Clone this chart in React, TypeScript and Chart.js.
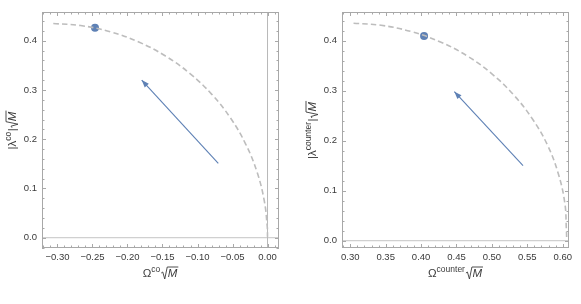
import React, { useEffect, useRef } from "react";
import { Chart, registerables } from "chart.js";

Chart.register(...registerables);

// ---------- data ----------
// Left panel: co-rotating
const CO_ARC_X = [-0.306, -0.2669, -0.2246, -0.1839, -0.1457, -0.1107, -0.0796, -0.053, -0.0314, -0.0152, -0.0047, -0.0004, 0.0];
const CO_ARC_Y = [0.435, 0.4308, 0.4182, 0.3974, 0.3689, 0.3332, 0.2911, 0.2433, 0.1907, 0.1344, 0.0755, 0.0228, 0.002];
const CO_POINT = { x: -0.2464, y: 0.4264 };
const CO_ARROW_X = [-0.0703, -0.1797]; // tail, head
const CO_ARROW_Y = [0.151, 0.3202];
const CO_X_TICKS = [-0.3, -0.25, -0.2, -0.15, -0.1, -0.05, 0.0];

// Right panel: counter-rotating
const CT_ARC_X = [0.3046, 0.3435, 0.3862, 0.4273, 0.4659, 0.5004, 0.5311, 0.5573, 0.5787, 0.5937, 0.603, 0.6052, 0.6056];
const CT_ARC_Y = [0.435, 0.4308, 0.4182, 0.3974, 0.3689, 0.3332, 0.2911, 0.2433, 0.1907, 0.1344, 0.0755, 0.0228, 0.006];
const CT_POINT = { x: 0.4042, y: 0.4094 };
const CT_ARROW_X = [0.544, 0.447];
const CT_ARROW_Y = [0.15, 0.298];
const CT_X_TICKS = [0.3, 0.35, 0.4, 0.45, 0.5, 0.55, 0.6];

const Y_TICKS = [0.0, 0.1, 0.2, 0.3, 0.4];

// ---------- styles ----------
const BLUE = "#5E81B5";
const ARC_COLOR = "#bdbdbd";
const FRAME_COLOR = "#a8a8a8";
const LABEL_COLOR = "#3a3a3a";
const FONT_FAMILY = '"Liberation Sans", Arial, sans-serif';

type Spec = {
  arcX: number[];
  arcY: number[];
  point: { x: number; y: number };
  arrowX: number[];
  arrowY: number[];
  xTicks: number[];
  xMin: number;
  xMax: number;
  yMin: number;
  yMax: number;
  yAxisWidth: number;
  padRight: number;
  vAxis: boolean;
  sup: string;
};

const fmtX = (v: number) => {
  const s = Math.abs(v) < 1e-9 ? "0.00" : Math.abs(v).toFixed(2);
  return v < -1e-9 ? "\u2212" + s : s;
};

function drawMath(
  ctx: CanvasRenderingContext2D,
  cx: number,
  cy: number,
  angle: number,
  lead: string,
  sup: string,
  trail: string
) {
  const MAIN = "11.5px " + FONT_FAMILY;
  const SUP = "8.5px " + FONT_FAMILY;
  const ITAL = "italic 11.5px " + FONT_FAMILY;
  ctx.save();
  ctx.translate(cx, cy);
  ctx.rotate(angle);
  ctx.fillStyle = LABEL_COLOR;
  ctx.strokeStyle = LABEL_COLOR;
  ctx.textBaseline = "alphabetic";
  ctx.textAlign = "left";
  ctx.font = MAIN;
  const wLead = ctx.measureText(lead).width;
  const wTrail = trail ? ctx.measureText(trail).width : 0;
  ctx.font = SUP;
  const wSup = ctx.measureText(sup).width;
  ctx.font = ITAL;
  const wM = ctx.measureText("M").width;
  const radW = 7;
  const total = wLead + wSup + 0.5 + wTrail + radW + wM + 1;
  let x = -total / 2;
  ctx.font = MAIN;
  ctx.fillText(lead, x, 0);
  x += wLead;
  ctx.font = SUP;
  ctx.fillText(sup, x, -5.5);
  x += wSup + 0.5;
  if (trail) {
    ctx.font = MAIN;
    ctx.fillText(trail, x, 0);
    x += wTrail;
  }
  ctx.lineWidth = 0.9;
  ctx.beginPath();
  ctx.moveTo(x + 0.5, -4);
  ctx.lineTo(x + 2, -5);
  ctx.lineTo(x + 4, 2);
  ctx.lineTo(x + 6.5, -10);
  ctx.lineTo(x + radW + wM + 1, -10);
  ctx.stroke();
  ctx.font = ITAL;
  ctx.fillText("M", x + radW, 0);
  ctx.restore();
}

function makePlugin(spec: Spec) {
  return {
    id: "frameDecor",
    beforeDatasetsDraw(chart: any) {
      const { ctx, chartArea: a, scales } = chart;
      const xs = scales.x;
      const ys = scales.y;
      ctx.save();
      const y0 = ys.getPixelForValue(0);
      ctx.strokeStyle = "#d0d0d0";
      ctx.lineWidth = 1.2;
      ctx.beginPath();
      ctx.moveTo(a.left, y0);
      ctx.lineTo(a.right, y0);
      ctx.stroke();
      if (spec.vAxis) {
        const x0 = xs.getPixelForValue(0);
        ctx.strokeStyle = "#b8b8b8";
        ctx.lineWidth = 1;
        ctx.beginPath();
        ctx.moveTo(x0, a.top);
        ctx.lineTo(x0, a.bottom);
        ctx.stroke();
      }
      ctx.restore();
    },
    afterDraw(chart: any) {
      const { ctx, chartArea: a, scales } = chart;
      const xs = scales.x;
      const ys = scales.y;
      ctx.save();
      // arrow head
      const tx = xs.getPixelForValue(spec.arrowX[0]);
      const ty = ys.getPixelForValue(spec.arrowY[0]);
      const hx = xs.getPixelForValue(spec.arrowX[1]);
      const hy = ys.getPixelForValue(spec.arrowY[1]);
      const ang = Math.atan2(hy - ty, hx - tx);
      const L = 7.5;
      const W = 2.8;
      const bx = hx - L * Math.cos(ang);
      const by = hy - L * Math.sin(ang);
      ctx.fillStyle = BLUE;
      ctx.beginPath();
      ctx.moveTo(hx, hy);
      ctx.lineTo(bx + W * Math.sin(ang), by - W * Math.cos(ang));
      ctx.lineTo(bx - W * Math.sin(ang), by + W * Math.cos(ang));
      ctx.closePath();
      ctx.fill();

      // frame
      ctx.strokeStyle = FRAME_COLOR;
      ctx.lineWidth = 1;
      ctx.strokeRect(a.left + 0.5, a.top + 0.5, a.right - a.left - 1, a.bottom - a.top - 1);

      // ticks (inward, all four sides)
      const drawX = (v: number, len: number) => {
        const p = Math.round(xs.getPixelForValue(v)) + 0.5;
        ctx.beginPath();
        ctx.moveTo(p, a.bottom);
        ctx.lineTo(p, a.bottom - len);
        ctx.moveTo(p, a.top);
        ctx.lineTo(p, a.top + len);
        ctx.stroke();
      };
      const drawY = (v: number, len: number) => {
        const p = Math.round(ys.getPixelForValue(v)) + 0.5;
        ctx.beginPath();
        ctx.moveTo(a.left, p);
        ctx.lineTo(a.left + len, p);
        ctx.moveTo(a.right, p);
        ctx.lineTo(a.right - len, p);
        ctx.stroke();
      };
      const isMajor = (v: number, majors: number[]) => majors.some((m) => Math.abs(m - v) < 1e-9);
      for (let i = Math.ceil(spec.xMin / 0.01); i <= Math.floor(spec.xMax / 0.01); i++) {
        const v = +(i * 0.01).toFixed(4);
        drawX(v, isMajor(v, spec.xTicks) ? 4 : 2.5);
      }
      for (let i = Math.ceil(spec.yMin / 0.02); i <= Math.floor(spec.yMax / 0.02); i++) {
        const v = +(i * 0.02).toFixed(4);
        drawY(v, isMajor(v, Y_TICKS) ? 4 : 2.5);
      }
      ctx.restore();

      // axis titles
      const cxm = (a.left + a.right) / 2;
      const cym = (a.top + a.bottom) / 2;
      drawMath(ctx, cxm, 277, 0, "\u03A9", spec.sup, "");
      drawMath(ctx, a.left - 26, cym, -Math.PI / 2, "|\u03BB", spec.sup, "|");
    },
  };
}

function makeConfig(spec: Spec): any {
  return {
    type: "scatter",
    data: {
      datasets: [
        {
          data: spec.arcX.map((x, i) => ({ x, y: spec.arcY[i] })),
          showLine: true,
          borderColor: ARC_COLOR,
          borderWidth: 1.6,
          borderDash: [5.5, 3.2],
          pointRadius: 0,
          tension: 0.4,
          fill: false,
        },
        {
          data: spec.arrowX.map((x, i) => ({ x, y: spec.arrowY[i] })),
          showLine: true,
          borderColor: BLUE,
          borderWidth: 1.1,
          pointRadius: 0,
          fill: false,
        },
        {
          data: [spec.point],
          showLine: false,
          pointRadius: 4,
          pointBackgroundColor: BLUE,
          pointBorderWidth: 0,
          backgroundColor: BLUE,
        },
      ],
    },
    options: {
      animation: false,
      responsive: false,
      devicePixelRatio: 1,
      events: [],
      layout: { padding: { top: 12, right: spec.padRight, left: 0, bottom: 0 } },
      plugins: { legend: { display: false }, tooltip: { enabled: false } },
      scales: {
        x: {
          type: "linear",
          min: spec.xMin,
          max: spec.xMax,
          grid: { display: false, drawTicks: false },
          border: { display: false },
          afterBuildTicks: (s: any) => {
            s.ticks = spec.xTicks.map((v) => ({ value: v }));
          },
          afterFit: (s: any) => {
            s.height = 56;
          },
          ticks: {
            color: LABEL_COLOR,
            font: { family: FONT_FAMILY, size: 9.5 },
            padding: 4,
            maxRotation: 0,
            autoSkip: false,
            callback: (v: number) => fmtX(v),
          },
        },
        y: {
          type: "linear",
          min: spec.yMin,
          max: spec.yMax,
          grid: { display: false, drawTicks: false },
          border: { display: false },
          afterBuildTicks: (s: any) => {
            s.ticks = Y_TICKS.map((v) => ({ value: v }));
          },
          afterFit: (s: any) => {
            s.width = spec.yAxisWidth;
          },
          ticks: {
            color: LABEL_COLOR,
            font: { family: FONT_FAMILY, size: 9.5 },
            padding: 5,
            autoSkip: false,
            callback: (v: number) => v.toFixed(1),
          },
        },
      },
    },
    plugins: [makePlugin(spec)],
  };
}

const LEFT_SPEC: Spec = {
  arcX: CO_ARC_X,
  arcY: CO_ARC_Y,
  point: CO_POINT,
  arrowX: CO_ARROW_X,
  arrowY: CO_ARROW_Y,
  xTicks: CO_X_TICKS,
  xMin: -0.3221,
  xMax: 0.0164,
  yMin: -0.0209,
  yMax: 0.4583,
  yAxisWidth: 42,
  padRight: 11,
  vAxis: true,
  sup: "co",
};

const RIGHT_SPEC: Spec = {
  arcX: CT_ARC_X,
  arcY: CT_ARC_Y,
  point: CT_POINT,
  arrowX: CT_ARROW_X,
  arrowY: CT_ARROW_Y,
  xTicks: CT_X_TICKS,
  xMin: 0.2883,
  xMax: 0.6089,
  yMin: -0.0146,
  yMax: 0.4574,
  yAxisWidth: 52,
  padRight: 12,
  vAxis: false,
  sup: "counter",
};

function Panel({ spec, left, width }: { spec: Spec; left: number; width: number }) {
  const ref = useRef<HTMLCanvasElement>(null);
  useEffect(() => {
    const chart = new Chart(ref.current as HTMLCanvasElement, makeConfig(spec));
    return () => chart.destroy();
  }, [spec]);
  return (
    <canvas
      ref={ref}
      width={width}
      height={304}
      style={{ position: "absolute", left, top: 0, width, height: 304, display: "block" }}
    />
  );
}

export default function App() {
  return (
    <div
      style={{
        position: "fixed",
        left: 0,
        top: 0,
        width: 581,
        height: 304,
        background: "#ffffff",
        overflow: "hidden",
      }}
    >
      <Panel spec={LEFT_SPEC} left={0} width={290} />
      <Panel spec={RIGHT_SPEC} left={290} width={291} />
    </div>
  );
}
